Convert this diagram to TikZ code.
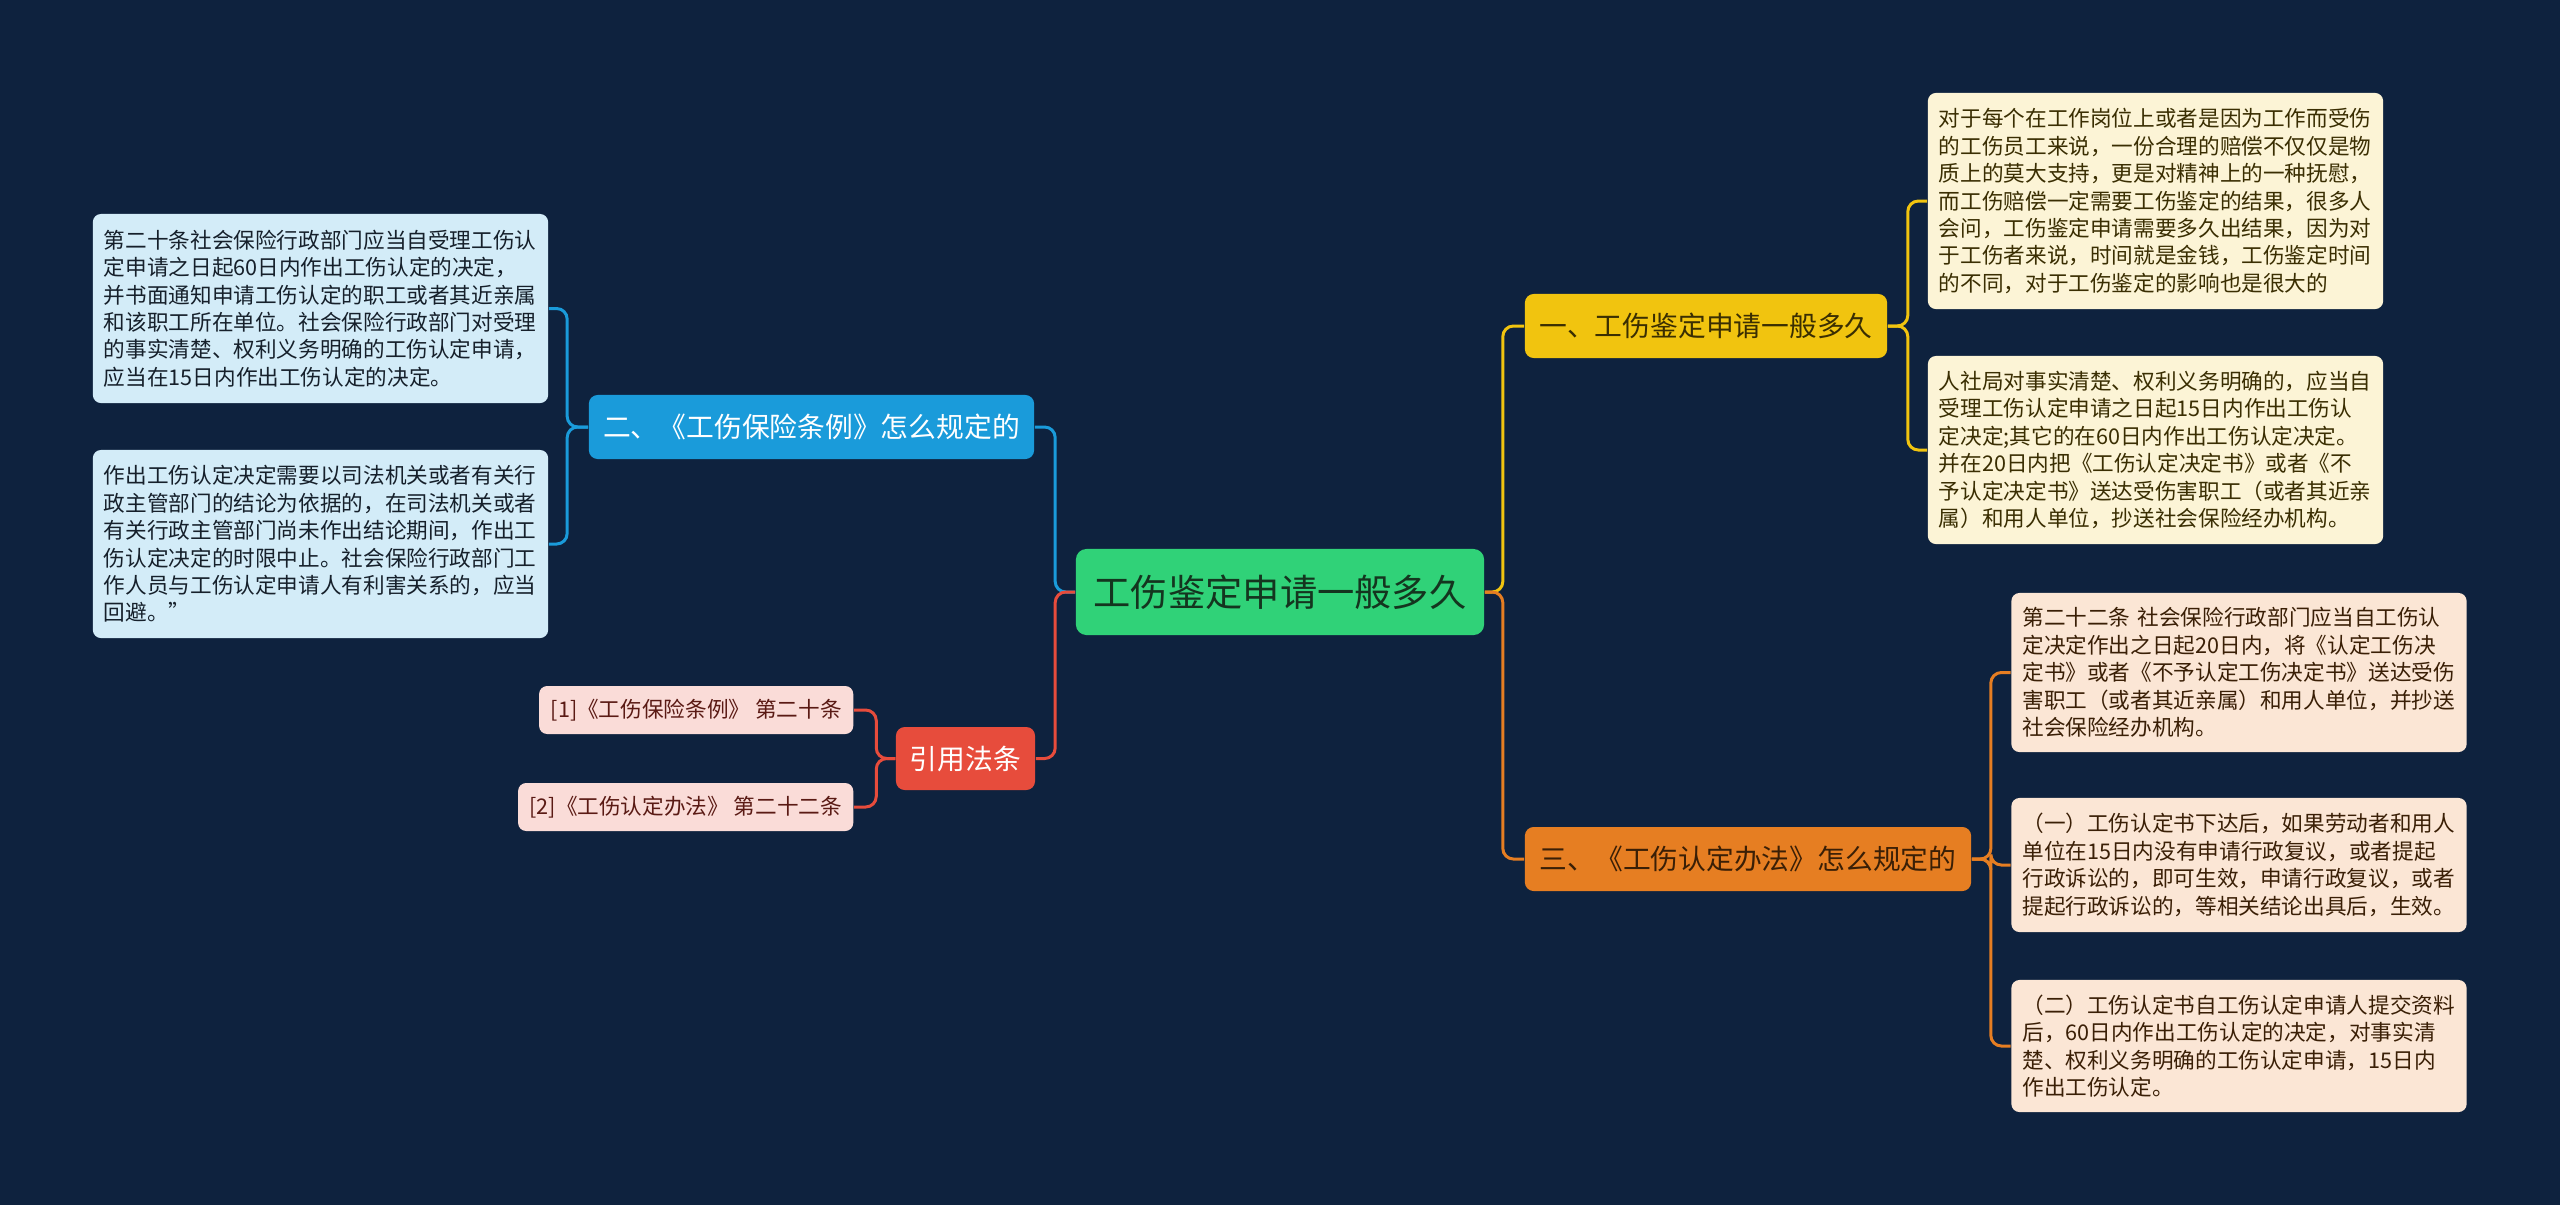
\documentclass[tikz,border=0pt]{standalone}
\usepackage{fontspec}
\setmainfont{Noto Sans CJK SC}
\usepackage{tikz}
\definecolor{navybg}{HTML}{0E223E}
\definecolor{hubgreen}{HTML}{30D278}
\definecolor{hubtext}{HTML}{14351F}
\definecolor{gold}{HTML}{F1C40F}
\definecolor{goldtext}{HTML}{3A2E02}
\definecolor{goldpale}{HTML}{FCF4D6}
\definecolor{skyblue}{HTML}{1A9BDA}
\definecolor{skypale}{HTML}{D3ECF8}
\definecolor{amber}{HTML}{E67E22}
\definecolor{ambertext}{HTML}{3A1F06}
\definecolor{amberpale}{HTML}{FBE6D5}
\definecolor{brick}{HTML}{E74C3C}
\definecolor{brickpale}{HTML}{FADCD8}
\definecolor{bricktext}{HTML}{5A1A14}
\definecolor{inktext}{HTML}{16202B}
\tikzset{
  topic/.style={rounded corners=2.5pt,inner sep=0pt,align=center,
    font=\fontsize{7.9pt}{9pt}\selectfont,minimum height=0.64cm},
  leaf/.style={rounded corners=2.3pt,inner xsep=0.11cm,inner ysep=0pt,
    align=left,text width=4.33cm,font=\fontsize{6.15pt}{7.8pt}\selectfont},
  cite/.style={rounded corners=2.3pt,inner sep=0pt,align=center,
    fill=brickpale,text=bricktext,minimum height=0.48cm,
    font=\fontsize{6.15pt}{7.8pt}\selectfont},
  link/.style={line width=0.85pt,rounded corners=3pt}
}

\begin{document}
\begin{tikzpicture}[x=0.01cm,y=-0.01cm]
  \useasboundingbox (0,0) rectangle (2560,1205);
  \fill[navybg] (0,0) rectangle (2560,1205);
  % centre
  \node[rounded corners=3pt,fill=hubgreen,text=hubtext,minimum width=4.08cm,
    minimum height=0.86cm,inner sep=0pt,font=\fontsize{10.6pt}{12pt}\selectfont]
    (hub) at (1280,592) {工伤鉴定申请一般多久};
  % first level
  \node[topic,fill=gold,text=goldtext,minimum width=3.62cm] (howlong) at (1706,326)
    {一、工伤鉴定申请一般多久};
  \node[topic,fill=skyblue,text=white,minimum width=4.45cm] (regs) at (811.5,427)
    {二、《工伤保险条例》怎么规定的};
  \node[topic,fill=amber,text=ambertext,minimum width=4.46cm] (rules) at (1748,859)
    {三、《工伤认定办法》怎么规定的};
  \node[topic,fill=brick,text=white,minimum width=1.39cm,minimum height=0.63cm]
    (cites) at (965.5,758.5) {引用法条};
  % leaves, right
  \node[leaf,fill=goldpale,text=goldtext,minimum height=2.16cm] (howA) at (2155.5,201)
    {对于每个在工作岗位上或者是因为工作而受伤\\的工伤员工来说，一份合理的赔偿不仅仅是物\\质上的莫大支持，更是对精神上的一种抚慰，\\而工伤赔偿一定需要工伤鉴定的结果，很多人\\会问，工伤鉴定申请需要多久出结果，因为对\\于工伤者来说，时间就是金钱，工伤鉴定时间\\的不同，对于工伤鉴定的影响也是很大的};
  \node[leaf,fill=goldpale,text=goldtext,minimum height=1.88cm] (howB) at (2155.5,450)
    {人社局对事实清楚、权利义务明确的，应当自\\受理工伤认定申请之日起15日内作出工伤认\\定决定;其它的在60日内作出工伤认定决定。\\并在20日内把《工伤认定决定书》或者《不\\予认定决定书》送达受伤害职工（或者其近亲\\属）和用人单位，抄送社会保险经办机构。};
  \node[leaf,fill=amberpale,text=ambertext,minimum height=1.59cm] (ruleA) at (2239,672.5)
    {第二十二条 社会保险行政部门应当自工伤认\\定决定作出之日起20日内，将《认定工伤决\\定书》或者《不予认定工伤决定书》送达受伤\\害职工（或者其近亲属）和用人单位，并抄送\\社会保险经办机构。};
  \node[leaf,fill=amberpale,text=ambertext,minimum height=1.34cm] (ruleB) at (2239,865)
    {（一）工伤认定书下达后，如果劳动者和用人\\单位在15日内没有申请行政复议，或者提起\\行政诉讼的，即可生效，申请行政复议，或者\\提起行政诉讼的，等相关结论出具后，生效。};
  \node[leaf,fill=amberpale,text=ambertext,minimum height=1.32cm] (ruleC) at (2239,1046)
    {（二）工伤认定书自工伤认定申请人提交资料\\后，60日内作出工伤认定的决定，对事实清\\楚、权利义务明确的工伤认定申请，15日内\\作出工伤认定。};
  % leaves, left
  \node[leaf,fill=skypale,text=inktext,minimum height=1.89cm] (regA) at (320.5,308.5)
    {第二十条社会保险行政部门应当自受理工伤认\\定申请之日起60日内作出工伤认定的决定，\\并书面通知申请工伤认定的职工或者其近亲属\\和该职工所在单位。社会保险行政部门对受理\\的事实清楚、权利义务明确的工伤认定申请，\\应当在15日内作出工伤认定的决定。};
  \node[leaf,fill=skypale,text=inktext,minimum height=1.88cm] (regB) at (320.5,544)
    {作出工伤认定决定需要以司法机关或者有关行\\政主管部门的结论为依据的，在司法机关或者\\有关行政主管部门尚未作出结论期间，作出工\\伤认定决定的时限中止。社会保险行政部门工\\作人员与工伤认定申请人有利害关系的，应当\\回避。”};
  \node[cite,anchor=east,minimum width=3.14cm] (citeA) at (854,710)
    {[1]《工伤保险条例》 第二十条};
  \node[cite,anchor=east,minimum width=3.35cm] (citeB) at (854,807)
    {[2]《工伤认定办法》 第二十二条};
  % connectors
  \draw[link,gold] (hub.east) -- ++(18,0) |- (howlong.west);
  \draw[link,amber] (hub.east) -- ++(18,0) |- (rules.west);
  \draw[link,skyblue] (hub.west) -- ++(-20,0) |- (regs.east);
  \draw[link,brick] (hub.west) -- ++(-20,0) |- (cites.east);
  \foreach \leafname in {howA,howB}
    \draw[link,gold] (howlong.east) -- ++(20,0) |- (\leafname.west);
  \foreach \leafname in {ruleA,ruleB,ruleC}
    \draw[link,amber] (rules.east) -- ++(19,0) |- (\leafname.west);
  \foreach \leafname in {regA,regB}
    \draw[link,skyblue] (regs.west) -- ++(-21,0) |- (\leafname.east);
  \foreach \leafname in {citeA,citeB}
    \draw[link,brick] (cites.west) -- ++(-19,0) |- (\leafname.east);
\end{tikzpicture}
\end{document}
